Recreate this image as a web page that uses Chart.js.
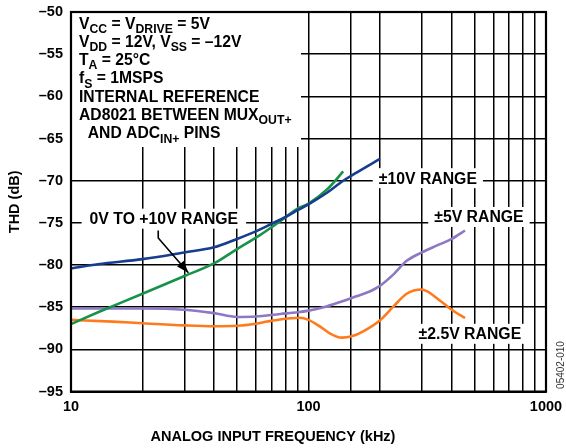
<!DOCTYPE html>
<html>
<head>
<meta charset="utf-8">
<script src="https://cdn.jsdelivr.net/npm/chart.js@4/dist/chart.umd.min.js"></script>
<style>
  html,body{margin:0;padding:0;background:#fff;}
  #wrap{width:566px;height:448px;position:relative;}
</style>
</head>
<body>
<div id="wrap"><canvas id="c" width="566" height="448"></canvas></div>
<script>
// ---- data ----
const freq10V = [10, 13, 20, 30, 40, 50, 60, 70, 80, 90, 100, 120, 140, 160, 200];
const thd10V  = [-80.4, -79.9, -79.3, -78.5, -77.9, -76.9, -76.0, -75.1, -74.3, -73.5, -72.8, -71.4, -70.0, -69.0, -67.4];

const freqUni = [10, 13, 20, 30, 40, 50, 62, 76, 90, 100, 120, 140];
const thdUni  = [-87.0, -85.6, -83.4, -81.3, -79.8, -78.1, -76.5, -74.8, -73.3, -72.7, -71.0, -68.9];

const freq5V = [10, 20, 30, 40, 50, 60, 76, 90, 100, 119, 139, 159, 182, 199, 228, 259, 300, 346, 401, 456];
const thd5V  = [-85.15, -85.15, -85.3, -85.7, -86.15, -86.1, -85.8, -85.6, -85.4, -84.9, -84.3, -83.7, -83.1, -82.5, -81.1, -79.5, -78.5, -77.7, -76.9, -75.9];

const freq25V = [10, 15, 20, 30, 40, 50, 60, 67, 76, 92, 100, 112, 123, 138, 152, 170, 199, 228, 259, 300, 315, 346, 384, 401, 456];
const thd25V  = [-86.5, -86.7, -86.9, -87.15, -87.25, -87.2, -86.95, -86.7, -86.45, -86.25, -86.5, -87.3, -88.1, -88.6, -88.45, -87.85, -86.6, -84.9, -83.4, -82.9, -83.1, -83.9, -84.9, -85.3, -86.3];

const xTickLabels = [10, 100, 1000];
const yMin = -95, yMax = -50, yStep = 5;

const seriesNames = ['±10V RANGE', '0V TO +10V RANGE', '±5V RANGE', '±2.5V RANGE'];
const seriesColors = ['#163d8e', '#17924a', '#8c78c4', '#ff7a1c'];

const toPts = (xs, ys) => xs.map((x, i) => ({x: x, y: ys[i]}));

const FONT = '"Liberation Sans", Arial, Helvetica, sans-serif';

function drawRich(ctx, x, y, parts, size) {
  let cx = x;
  for (const [t, sub] of parts) {
    if (sub) {
      ctx.font = 'bold ' + (size * 0.78) + 'px ' + FONT;
      ctx.fillText(t, cx, y + size * 0.28);
    } else {
      ctx.font = 'bold ' + size + 'px ' + FONT;
      ctx.fillText(t, cx, y);
    }
    cx += ctx.measureText(t).width;
  }
}

const LABEL_FONT = 'bold 15.8px ' + FONT;

const annot = {
  id: 'annot',
  beforeDatasetsDraw(chart) {
    const {ctx, chartArea: a, scales: {x, y}} = chart;
    ctx.save();
    ctx.fillStyle = '#fff';
    // conditions block mask
    ctx.fillRect(a.left + 1, a.top + 1, 301 - a.left - 1, 147 - a.top - 1);
    // label masks
    ctx.font = LABEL_FONT;
    for (const L of labels) {
      const px = x.getPixelForValue(L.f), py = y.getPixelForValue(L.v);
      const w = ctx.measureText(L.text).width;
      ctx.fillRect(px - w / 2 - L.padX, py - 10, w + 2 * L.padX, 20);
    }
    ctx.restore();
  },
  afterDraw(chart) {
    const {ctx, chartArea: a, scales: {x, y}} = chart;
    ctx.save();
    // frame
    ctx.strokeStyle = '#000';
    ctx.lineWidth = 2.2;
    ctx.strokeRect(a.left, a.top, a.right - a.left, a.bottom - a.top);
    // labels
    ctx.fillStyle = '#000';
    ctx.textBaseline = 'middle';
    ctx.textAlign = 'center';
    ctx.font = LABEL_FONT;
    for (const L of labels) {
      ctx.fillText(L.text, x.getPixelForValue(L.f), y.getPixelForValue(L.v) + 1);
    }
    // arrow from label to the 0V to +10V curve
    const sx = x.getPixelForValue(23.3), sy = y.getPixelForValue(-75.9);
    const mx = sx, my = y.getPixelForValue(-76.8);
    const tx = x.getPixelForValue(31.2), ty = y.getPixelForValue(-80.9);
    ctx.lineWidth = 1.6;
    ctx.beginPath(); ctx.moveTo(sx, sy); ctx.lineTo(mx, my); ctx.lineTo(tx, ty); ctx.stroke();
    const ang = Math.atan2(ty - my, tx - mx), hl = 12, hw = 4.5;
    ctx.beginPath();
    ctx.moveTo(tx, ty);
    ctx.lineTo(tx - hl * Math.cos(ang) + hw * Math.sin(ang), ty - hl * Math.sin(ang) - hw * Math.cos(ang));
    ctx.lineTo(tx - hl * Math.cos(ang) - hw * Math.sin(ang), ty - hl * Math.sin(ang) + hw * Math.cos(ang));
    ctx.closePath(); ctx.fill();
    // conditions block
    ctx.textAlign = 'left';
    ctx.textBaseline = 'alphabetic';
    const lx = a.left + 8, ly0 = 28.5, dl = 18.3, fs = 15.7;
    const lines = [
      [['V',0],['CC',1],[' = V',0],['DRIVE',1],[' = 5V',0]],
      [['V',0],['DD',1],[' = 12V, V',0],['SS',1],[' = –12V',0]],
      [['T',0],['A',1],[' = 25°C',0]],
      [['f',0],['S',1],[' = 1MSPS',0]],
      [['INTERNAL REFERENCE',0]],
      [['AD8021 BETWEEN MUX',0],['OUT+',1]],
      [['  AND ADC',0],['IN+',1],[' PINS',0]]
    ];
    lines.forEach((p, i) => drawRich(ctx, lx, ly0 + i * dl, p, fs));
    // figure code
    ctx.save();
    ctx.translate(561, 365);
    ctx.rotate(-Math.PI / 2);
    ctx.textAlign = 'center';
    ctx.textBaseline = 'middle';
    ctx.fillStyle = '#333';
    ctx.font = '10px ' + FONT;
    ctx.fillText('05402-010', 0, 0);
    ctx.restore();
    ctx.restore();
  }
};

const labels = [
  {text: seriesNames[1], f: 24.6, v: -74.5, padX: 8},
  {text: seriesNames[0], f: 318, v: -69.7, padX: 6},
  {text: seriesNames[2], f: 522, v: -74.3, padX: 6},
  {text: seriesNames[3], f: 478, v: -88.15, padX: 6}
];

const mk = (i, xs, ys) => ({
  label: seriesNames[i],
  data: toPts(xs, ys),
  borderColor: seriesColors[i],
  backgroundColor: seriesColors[i],
  borderWidth: 2.6,
  pointRadius: 0,
  cubicInterpolationMode: 'monotone',
  fill: false
});

new Chart(document.getElementById('c'), {
  type: 'line',
  data: {
    datasets: [
      mk(0, freq10V, thd10V),
      mk(1, freqUni, thdUni),
      mk(2, freq5V, thd5V),
      mk(3, freq25V, thd25V)
    ]
  },
  options: {
    responsive: false,
    animation: false,
    devicePixelRatio: 1,
    layout: {padding: {left: 0, right: 20, top: 12, bottom: 2}},
    plugins: {
      legend: {display: false},
      tooltip: {enabled: false},
      title: {
        display: true,
        position: 'bottom',
        text: 'ANALOG INPUT FREQUENCY (kHz)',
        color: '#000',
        font: {family: FONT, size: 14.5, weight: 'bold', lineHeight: 1.2},
        padding: {top: 0, bottom: 0}
      }
    },
    scales: {
      x: {
        type: 'logarithmic',
        min: 10, max: 1000,
        afterFit: s => { s.height = 37; s.paddingRight = 0; s.paddingLeft = 0; },
        grid: {color: '#000', lineWidth: 1.5, drawTicks: false},
        border: {display: true, color: '#000', width: 2},
        ticks: {
          autoSkip: false, maxRotation: 0, padding: 7,
          color: '#000',
          font: {family: FONT, size: 14.5, weight: 'bold'},
          callback: v => xTickLabels.includes(Math.round(v)) && Math.abs(v - Math.round(v)) < 1e-6 ? String(Math.round(v)) : ''
        }
      },
      y: {
        min: yMin, max: yMax,
        afterFit: s => { s.width = 71; s.paddingTop = 0; s.paddingBottom = 0; },
        grid: {color: '#000', lineWidth: 1.5, drawTicks: false},
        border: {display: true, color: '#000', width: 2},
        ticks: {
          stepSize: yStep, padding: 8,
          color: '#000',
          font: {family: FONT, size: 14.5, weight: 'bold'},
          callback: v => String(v).replace('-', '–')
        },
        title: {
          display: true,
          text: 'THD (dB)',
          color: '#000',
          font: {family: FONT, size: 14.5, weight: 'bold'},
          padding: {top: 6, bottom: 0}
        }
      }
    }
  },
  plugins: [annot]
});
</script>
</body>
</html>
